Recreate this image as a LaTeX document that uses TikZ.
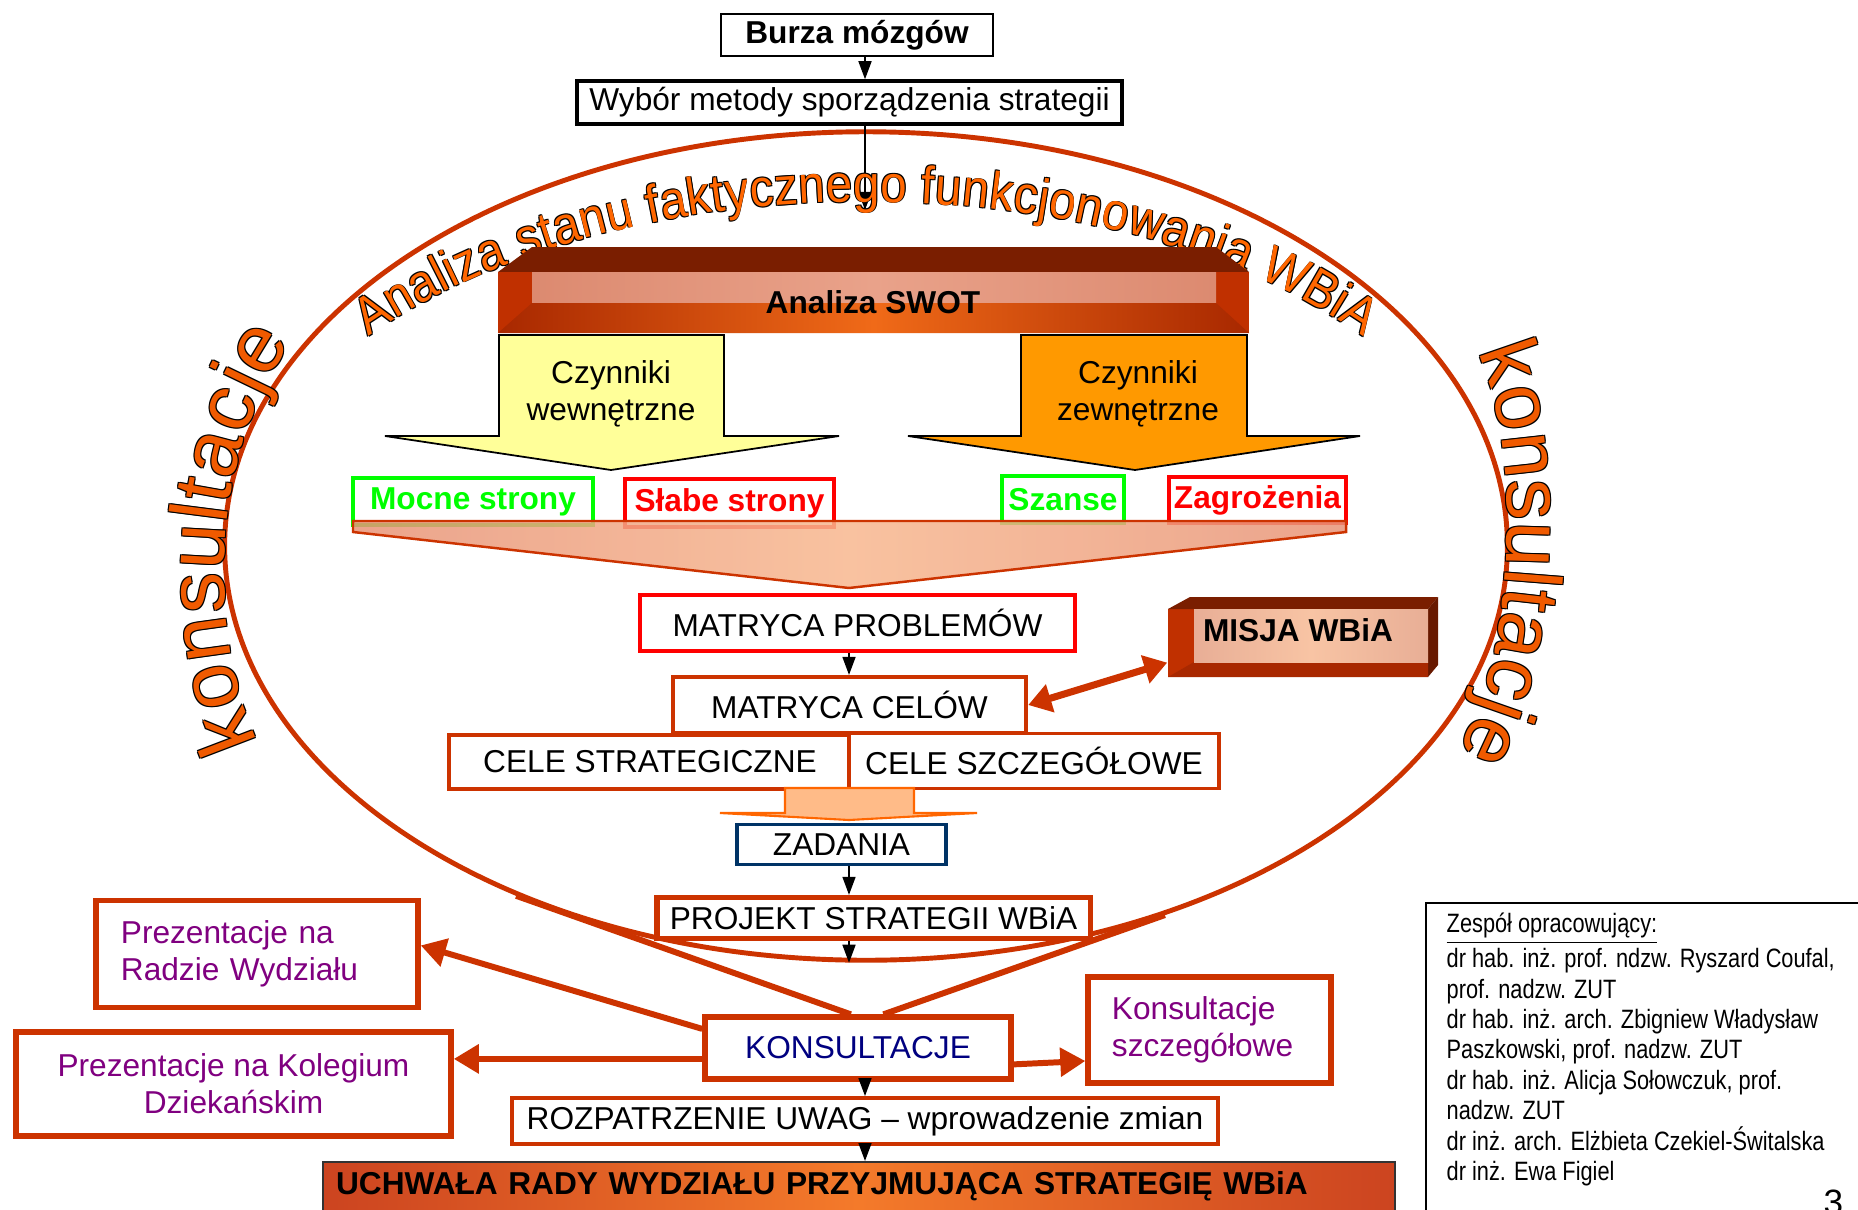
\documentclass[tikz,border=0pt]{standalone}
\usepackage{fontspec}
\setmainfont{Liberation Sans}
\newfontfamily\narrowfont{Liberation Sans}[FakeStretch=0.82]
\newfontfamily\wordartfont{Liberation Sans}[FakeStretch=0.9]
\usepackage{xcolor}
\usepackage{tikz}
\usetikzlibrary{arrows.meta,positioning,shapes.geometric,decorations.text}

\definecolor{ored}{HTML}{CC3300}
\definecolor{lgreen}{HTML}{00FF00}
\definecolor{bred}{HTML}{FF0000}
\definecolor{lyellow}{HTML}{FFFF99}
\definecolor{aorange}{HTML}{FF9900}
\definecolor{zblue}{HTML}{003366}
\definecolor{navytext}{HTML}{000080}
\definecolor{purp}{HTML}{800080}
\definecolor{artorange}{HTML}{FF6600}
\definecolor{konsorange}{HTML}{F05A00}
\definecolor{darktop}{HTML}{7A1E00}
\definecolor{bevelred}{HTML}{C03000}
\definecolor{bevelbrown}{HTML}{A82800}
\definecolor{swotglow}{HTML}{F06A18}
\definecolor{swotsalmon}{HTML}{DC8A70}
\definecolor{swotlight}{HTML}{E9A28A}
\definecolor{misjalight}{HTML}{F8C4A4}
\definecolor{misjasalmon}{HTML}{E8AE96}
\definecolor{funnelsalmon}{HTML}{E89478}
\definecolor{funnellight}{HTML}{F8B890}
\definecolor{peach}{HTML}{FFBB88}
\definecolor{lorange}{HTML}{FF6600}
\definecolor{uchdark}{HTML}{CC4420}
\definecolor{uchlight}{HTML}{F47A2A}

\newcommand\arcfont{\wordartfont\fontsize{15}{17}\selectfont}
\newcommand\konsfont{\fontsize{23}{26}\selectfont}

\begin{document}
\begin{tikzpicture}[
    x=0.01cm, y=-0.01cm,
    font=\fontsize{9}{10.5}\selectfont,
    box/.style={draw=ored, line width=1.1pt, fill=white, inner sep=0pt},
    swbox/.style={draw, line width=1pt, fill=white, inner sep=0pt,
                  font=\fontsize{9}{10.5}\selectfont\bfseries},
    arrow/.style={-{Triangle[length=1.8mm,width=1.3mm]}, line width=0.45pt},
    fatarrow/.style={-{Triangle[length=2.5mm,width=2.8mm]}, draw=ored, line width=1.7pt},
    dblarrow/.style={{Triangle[length=2.3mm,width=2.8mm]}-{Triangle[length=2.3mm,width=2.8mm]},
                     draw=ored, line width=2pt},
    vline/.style={draw=ored, line width=1.7pt},
    arctext/.style={decorate, decoration={text along path, text align={fit to path},
                    text={|\arcfont\color{#1}|Analiza stanu faktycznego funkcjonowania WBiA}}},
    konstext/.style={decorate, decoration={text along path, text align={fit to path},
                     text={|\konsfont\color{#1}|konsultacje}}}
]
\useasboundingbox (0,0) rectangle (1858,1209);
\fill[white] (0,0) rectangle (1858,1209);

\coordinate (axisA) at (849,0);
\coordinate (axisB) at (865,0);
\coordinate (arcmid) at (865,210);

\node[draw=ored, line width=1.4pt, ellipse, inner sep=0pt,
      minimum width=12.82cm, minimum height=8.28cm] (oval) at (866,546) {};

\node[draw, line width=0.6pt, inner sep=0pt, minimum width=2.72cm, minimum height=0.42cm,
      font=\fontsize{9}{10.5}\selectfont\bfseries] (burza) at (857,35) {Burza mózgów};
\node[draw, line width=1pt, inner sep=0pt, minimum width=5.45cm, minimum height=0.43cm]
      (wybor) at (849.5,102.5) {Wybór metody sporządzenia strategii};
\draw[arrow] (burza.south -| axisB) -- (wybor.north -| axisB);
\draw[arrow] (wybor.south -| arcmid) -- (arcmid);

\foreach \a in {45,135,225,315} {
  \path[arctext=black, shift={(\a:1.2)}]
        plot[domain=217.4:322.6, samples=60, variable=\t] ({866+626*cos(\t)},{546+344*sin(\t)});
  \path[konstext=black, shift={(\a:1.4)}] (258,742) .. controls (205,625) and (212,455) .. (292,342);
  \path[konstext=black, shift={(\a:1.4)}] (1478,352) .. controls (1518,440) and (1522,640) .. (1458,752);
}
\path[arctext=artorange]
      plot[domain=217.4:322.6, samples=60, variable=\t] ({866+626*cos(\t)},{546+344*sin(\t)});
\path[konstext=konsorange] (258,742) .. controls (205,625) and (212,455) .. (292,342);
\path[konstext=konsorange] (1478,352) .. controls (1518,440) and (1522,640) .. (1458,752);

\fill[darktop] (498,272) -- (532,247) -- (1216,247) -- (1249,272) -- cycle;
\fill[bevelred] (498,272) rectangle (1249,333);
\shade[left color=swotsalmon, right color=swotsalmon, middle color=swotlight] (532,272) rectangle (1216,303);
\shade[left color=bevelbrown, right color=bevelbrown, middle color=swotglow]
      (498,333) -- (532,303) -- (1216,303) -- (1249,333) -- cycle;
\node[font=\fontsize{9}{10.5}\selectfont\bfseries] (swot) at (873,302) {Analiza SWOT};

\filldraw[fill=lyellow, draw=black, line width=0.5pt]
      (499,335) -- (724,335) -- (724,436) -- (839,436) -- (611,470) -- (385,436) -- (499,436) -- cycle;
\filldraw[fill=aorange, draw=black, line width=0.5pt]
      (1021,335) -- (1247,335) -- (1247,436) -- (1360,436) -- (1135,470) -- (908,436) -- (1021,436) -- cycle;
\node[align=center] (wew) at (611,394) {Czynniki\\wewnętrzne};
\node[align=center] (zew) at (1138,394) {Czynniki\\zewnętrzne};

\node[swbox, draw=lgreen, text=lgreen, minimum width=2.4cm, minimum height=0.47cm] (mocne) at (473,501.5) {Mocne strony};
\node[swbox, draw=bred, text=bred, minimum width=2.09cm, minimum height=0.48cm] (slabe) at (729.5,503) {Słabe strony};
\node[swbox, draw=lgreen, text=lgreen, minimum width=1.22cm, minimum height=0.47cm] (szanse) at (1063,499.5) {Szanse};
\node[swbox, draw=bred, text=bred, minimum width=1.77cm, minimum height=0.46cm] (zagroz) at (1257.5,500) {Zagrożenia};

\path[draw=ored, line width=0.7pt, left color=funnelsalmon, right color=funnelsalmon,
      middle color=funnellight, fill opacity=0.85]
      (353,521) -- (1346,521) -- (1346,532) -- (849,588) -- (353,532) -- cycle;

\node[box, draw=bred, line width=1pt, minimum width=4.35cm, minimum height=0.56cm] (matprob) at (857.5,623) {MATRYCA PROBLEMÓW};
\node[box, line width=1.2pt, minimum width=3.53cm, minimum height=0.56cm] (matcel) at (849.5,705) {MATRYCA CELÓW};
\node[box, minimum width=4.02cm, minimum height=0.54cm] (celestr) at (650,762) {CELE STRATEGICZNE};
\node[box, minimum width=3.70cm, minimum height=0.55cm] (celeszcz) at (1034,761) {CELE SZCZEGÓŁOWE};

\fill[bevelred] (1168,609) rectangle (1428,677);
\fill[darktop] (1168,609) -- (1190,597) -- (1438,597) -- (1428,609) -- cycle;
\fill[darktop!85!black] (1428,609) -- (1438,597) -- (1438,665) -- (1428,677) -- cycle;
\fill[bevelbrown] (1168,677) -- (1194,662) -- (1428,662) -- (1428,677) -- cycle;
\shade[left color=misjasalmon, right color=misjasalmon, middle color=misjalight] (1194,609) rectangle (1428,662);
\node[inner sep=0pt, minimum width=2.6cm, minimum height=0.68cm,
      font=\fontsize{9}{10.5}\selectfont\bfseries] (misja) at (1298,630) {MISJA WBiA};

\filldraw[fill=peach, draw=lorange, line width=0.6pt]
      (785,788) -- (914,788) -- (914,813) -- (977,813) -- (849,820) -- (720,813) -- (785,813) -- cycle;

\node[box, draw=zblue, line width=1pt, minimum width=2.09cm, minimum height=0.40cm] (zadania) at (841.5,844.5) {ZADANIA};
\node[box, line width=1.5pt, minimum width=4.33cm, minimum height=0.41cm] (projekt) at (873.5,918) {PROJEKT STRATEGII WBiA};
\node[box, line width=1.5pt, text=navytext, minimum width=3.06cm, minimum height=0.62cm] (konsult) at (858,1048) {KONSULTACJE};
\node[box, line width=1.5pt, text=purp, align=left, text width=2.72cm, inner xsep=0.25cm,
      minimum height=1.07cm] (radzie) at (257,954) {Prezentacje na\\Radzie Wydziału};
\node[box, line width=1.5pt, text=purp, align=center, minimum width=4.35cm,
      minimum height=1.04cm] (kolegium) at (233.5,1084) {Prezentacje na Kolegium\\Dziekańskim};
\node[box, line width=1.5pt, text=purp, align=left, text width=1.95cm, inner xsep=0.24cm,
      minimum height=1.06cm] (szczeg) at (1209.5,1030) {Konsultacje\\szczegółowe};
\node[box, minimum width=7.06cm, minimum height=0.46cm] (rozp) at (865,1121) {ROZPATRZENIE UWAG – wprowadzenie zmian};
\node[anchor=north west, draw=black!80, line width=0.6pt, left color=uchdark, right color=uchdark,
      middle color=uchlight, inner xsep=0.13cm, inner ysep=0pt, text width=10.45cm, align=left,
      text height=0.32cm, text depth=0.45cm, font=\fontsize{9}{10.5}\selectfont\bfseries]
      (uchwala) at (322,1161) {UCHWAŁA RADY WYDZIAŁU PRZYJMUJĄCA STRATEGIĘ WBiA};

\draw[arrow] (matprob.south -| axisA) -- (matcel.north -| axisA);
\draw[arrow] (zadania.south -| axisA) -- (projekt.north -| axisA);
\draw[arrow] (projekt.south -| axisA) -- (oval.south -| axisA);
\draw[arrow] (konsult.south -| axisB) -- (rozp.north -| axisB);
\draw[arrow] (rozp.south -| axisB) -- (uchwala.north -| axisB);
\draw[dblarrow] (matcel.east) -- (misja.194);
\draw[vline] (konsult.102) -- (oval.225);
\draw[vline] (konsult.53) -- (oval.309);
\draw[fatarrow] (konsult.173) -- (radzie.3);
\draw[fatarrow] (konsult.184) -- (konsult.184 -| kolegium.east);
\draw[fatarrow] (konsult.-6) -- (szczeg.194);

\draw[line width=0.6pt] (1426,1230) |- (1880,903);
\node[anchor=north west, align=left, inner sep=0pt,
      font=\narrowfont\fontsize{7.55}{8.65}\selectfont] (team) at (1446,912)
      {\underline{Zespół opracowujący:}\\
       dr hab. inż. prof. ndzw. Ryszard Coufal,\\
       prof. nadzw. ZUT\\
       dr hab. inż. arch. Zbigniew Władysław\\
       Paszkowski, prof. nadzw. ZUT\\
       dr hab. inż. Alicja Sołowczuk, prof.\\
       nadzw. ZUT\\
       dr inż. arch. Elżbieta Czekiel-Świtalska\\
       dr inż. Ewa Figiel};
\node[anchor=base west, inner sep=0pt, font=\fontsize{10}{12}\selectfont] (pagenum) at (1823,1214) {3};
\end{tikzpicture}
\end{document}
